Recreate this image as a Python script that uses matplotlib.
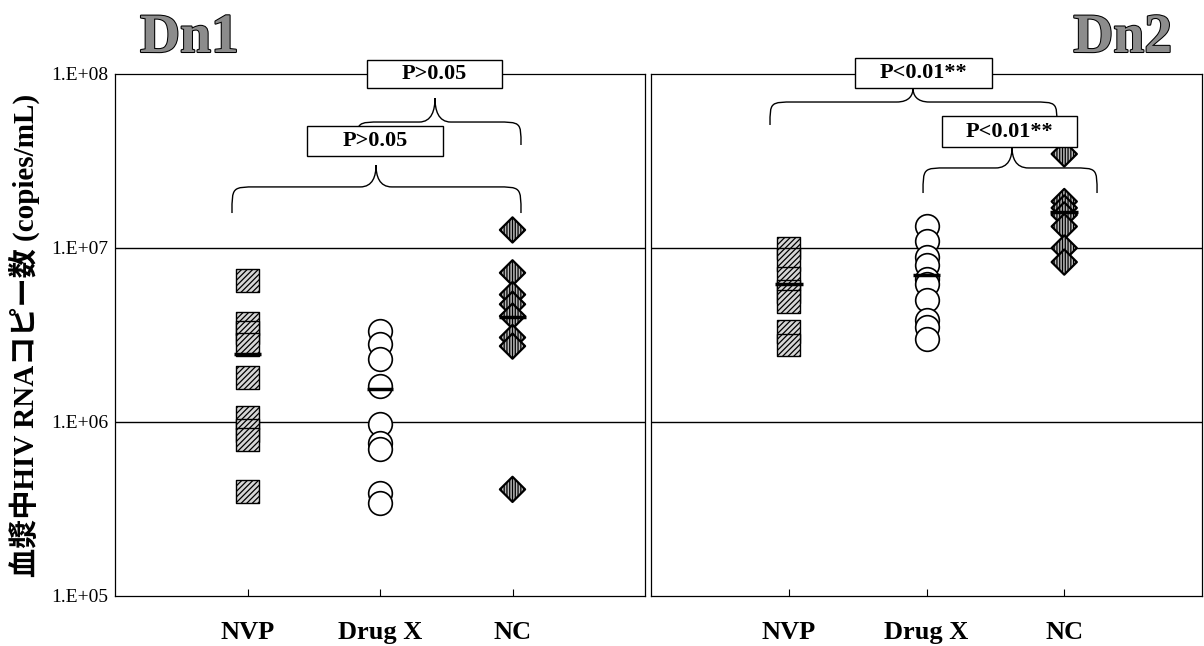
import numpy as np
import matplotlib
matplotlib.use("Agg")
import matplotlib.pyplot as plt
from matplotlib.path import Path
from matplotlib.patches import PathPatch, Rectangle
from matplotlib.ticker import NullLocator
import matplotlib.patheffects as pe

plt.rcParams['font.family'] = ['Liberation Serif', 'DejaVu Serif']
plt.rcParams['hatch.linewidth'] = 0.9

groups = ["NVP", "Drug X", "NC"]
ytick_vals = [1e5, 1e6, 1e7, 1e8]
ytick_labels = ["1.E+05", "1.E+06", "1.E+07", "1.E+08"]

# Dn1 (copies/mL)
dn1_nvp = [6.5e6, 3.7e6, 3.26e6, 2.8e6, 1.8e6, 1.06e6, 8.9e5, 7.9e5, 4.0e5]
dn1_drugx = [3.33e6, 2.8e6, 2.29e6, 1.61e6, 9.8e5, 7.6e5, 6.97e5, 3.93e5, 3.44e5]
dn1_nc = [1.27e7, 7.2e6, 5.4e6, 4.75e6, 4.06e6, 3.06e6, 2.73e6, 4.1e5]
dn1_means = [2.46e6, 1.55e6, 4.0e6]

# Dn2 (copies/mL)
dn2_nvp = [1.0e7, 8.6e6, 6.7e6, 5.6e6, 4.9e6, 3.33e6, 2.77e6]
dn2_drugx = [1.33e7, 1.1e7, 8.9e6, 8.0e6, 6.6e6, 6.2e6, 5.0e6, 3.85e6, 3.5e6, 3.0e6]
dn2_nc = [3.47e7, 1.85e7, 1.7e7, 1.55e7, 1.33e7, 1.0e7, 8.3e6]
dn2_means = [6.2e6, 7.0e6, 1.6e7]

p_dn1 = ["P>0.05", "P>0.05"]
p_dn2 = ["P<0.01**", "P<0.01**"]


def brace(ax, xl, xr, xp, ye, ym, yp, rx=0.19, px=0.12):
    # x in category units, y given as log10 values
    pts = [
        (xl, ye),
        (xl, ym), (xl, ym), (xl + rx, ym),
        (xp - px, ym),
        (xp - px * 0.2, ym), (xp, ym + 0.5 * (yp - ym)), (xp, yp),
        (xp, ym + 0.5 * (yp - ym)), (xp + px * 0.2, ym), (xp + px, ym),
        (xr - rx, ym),
        (xr, ym), (xr, ym), (xr, ye),
    ]
    codes = [Path.MOVETO] + [Path.CURVE4] * 3 + [Path.LINETO] + [Path.CURVE4] * 6 \
        + [Path.LINETO] + [Path.CURVE4] * 3
    verts = [(x, 10 ** y) for x, y in pts]
    ax.add_patch(PathPatch(Path(verts, codes), facecolor='none', edgecolor='black',
                           lw=1.0, zorder=5, clip_on=False))


def pbox(ax, x0, x1, y0, y1, text):
    ax.add_patch(Rectangle((x0, 10 ** y0), x1 - x0, 10 ** y1 - 10 ** y0, facecolor='white',
                           edgecolor='black', lw=1.0, zorder=6, clip_on=False))
    ax.text((x0 + x1) / 2, 10 ** ((y0 + y1) / 2), text, ha='center', va='center',
            fontsize=16, fontweight='bold', zorder=7, clip_on=False)


def panel(ax, nvp, drugx, nc, means):
    pos = np.arange(1, 4)
    ax.scatter([pos[0]] * len(nvp), nvp, marker='s', s=270, facecolor='#d6d6d6',
               edgecolor='black', hatch='//////', lw=1.0, zorder=3)
    ax.scatter([pos[1]] * len(drugx), drugx, marker='o', s=290, facecolor='white',
               edgecolor='black', lw=1.2, zorder=3)
    ax.scatter([pos[2]] * len(nc), nc, marker='D', s=165, facecolor='#b8b8b8',
               edgecolor='black', hatch='||||||', lw=1.6, zorder=3)
    ax.hlines(means, pos - 0.1, pos + 0.1, colors='black', lw=2.5, zorder=4)
    for g in [1e6, 1e7]:
        ax.axhline(g, color='black', lw=1.0, zorder=1)
    ax.set_yscale('log')
    ax.set_ylim(1e5, 1e8)
    ax.set_xlim(0, 4)
    ax.set_xticks(pos)
    ax.set_xticklabels(groups, fontsize=19, fontweight='bold')
    ax.tick_params(axis='x', direction='in', length=5, pad=18)
    ax.yaxis.set_minor_locator(NullLocator())
    for s in ax.spines.values():
        s.set_linewidth(0.9)


fig = plt.figure(figsize=(12.04, 6.46), dpi=100)
ax1 = fig.add_axes([115 / 1204, 50 / 646, 530 / 1204, 522 / 646])
ax2 = fig.add_axes([651 / 1204, 50 / 646, 551 / 1204, 522 / 646])

panel(ax1, dn1_nvp, dn1_drugx, dn1_nc, dn1_means)
panel(ax2, dn2_nvp, dn2_drugx, dn2_nc, dn2_means)

ax1.set_yticks(ytick_vals)
ax1.set_yticklabels(ytick_labels, fontsize=14)
ax1.tick_params(axis='y', length=0, pad=5)
ax2.set_yticks(ytick_vals)
ax2.set_yticklabels([])
ax2.tick_params(axis='y', length=0)

# Dn1 comparisons
brace(ax1, 0.883, 3.064, 1.970, 7.201, 7.351, 7.477)
brace(ax1, 1.826, 3.064, 2.415, 7.592, 7.724, 7.862)
pbox(ax1, 1.902, 2.921, 7.920, 8.080, p_dn1[0])
pbox(ax1, 1.449, 2.475, 7.529, 7.701, p_dn1[1])

# Dn2 comparisons
brace(ax2, 0.864, 2.947, 1.902, 7.707, 7.839, 7.920, rx=0.18)
brace(ax2, 1.975, 3.238, 2.621, 7.316, 7.460, 7.580, rx=0.18)
pbox(ax2, 1.481, 2.475, 7.920, 8.092, p_dn2[0])
pbox(ax2, 2.112, 3.093, 7.580, 7.759, p_dn2[1])

title_fx = [pe.Stroke(linewidth=1.5, foreground='black'), pe.Normal()]
fig.text(140 / 1204, 1 - 52 / 646, "Dn1", fontsize=40, fontweight='bold', color='#8c8c8c',
         ha='left', va='baseline', path_effects=title_fx)
fig.text(1172 / 1204, 1 - 52 / 646, "Dn2", fontsize=40, fontweight='bold', color='#8c8c8c',
         ha='right', va='baseline', path_effects=title_fx)

fig.text(24 / 1204, 0.48, "血漿中HIV RNAコピー数 (copies/mL)", rotation=90,
         ha='center', va='center', fontsize=21, fontweight='bold',
         family=['Liberation Serif', 'Noto Sans CJK JP'])

fig.savefig("out.png", dpi=100)
